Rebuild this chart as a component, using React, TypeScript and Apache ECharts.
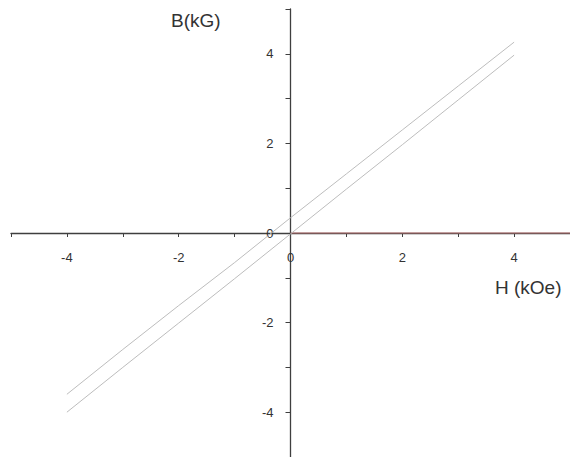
import React, { useEffect, useRef } from "react";
import * as echarts from "echarts";

const H = [-4, -3, -2, -1, 0, 1, 2, 3, 4];
const upperB = [-3.6, -2.6, -1.62, -0.66, 0.34, 1.32, 2.3, 3.28, 4.26];
const lowerB = [-4.0, -3.0, -2.01, -1.02, -0.02, 0.98, 1.97, 2.97, 3.97];
const baseH = [0, 5];
const baseB = [0, 0];
const axisTicks = { min: -5, max: 5, interval: 1 };

const W = 570;
const HT = 457;
const GRID = { left: 11, right: 0, top: 9, bottom: 0 };

export default function App() {
  const ref = useRef<HTMLDivElement>(null);
  useEffect(() => {
    if (!ref.current) return;
    const chart = echarts.init(ref.current, null, { renderer: "svg" });
    const fmt = (v: number) => (Math.round(v) % 2 === 0 ? String(Math.round(v)) : "");
    const labelStyle = {
      color: "#333333",
      fontSize: 13,
      fontFamily: "Liberation Sans, Arial, sans-serif",
    };
    const gw = W - GRID.left - GRID.right;
    const gh = HT - GRID.top - GRID.bottom;
    chart.setOption({
      animation: false,
      backgroundColor: "#ffffff",
      grid: { ...GRID, containLabel: false, outerBoundsMode: "none" },
      xAxis: {
        type: "value",
        ...axisTicks,
        position: "bottom",
        offset: -gh / 2,
        axisLine: { onZero: false, lineStyle: { color: "#3f3f3f", width: 1.3 } },
        axisTick: { show: true, inside: false, length: 4, lineStyle: { color: "#3f3f3f" } },
        axisLabel: { ...labelStyle, margin: 18, formatter: fmt, showMinLabel: true, showMaxLabel: true },
        splitLine: { show: false },
      },
      yAxis: {
        type: "value",
        ...axisTicks,
        position: "left",
        offset: -gw / 2,
        axisLine: { onZero: false, lineStyle: { color: "#3f3f3f", width: 1.3 } },
        axisTick: { show: true, inside: false, length: 5, lineStyle: { color: "#3f3f3f" } },
        axisLabel: { ...labelStyle, margin: 17, formatter: fmt },
        splitLine: { show: false },
      },
      series: [
        {
          type: "line",
          data: baseH.map((h, i) => [h, baseB[i]]),
          showSymbol: false,
          lineStyle: { color: "#b87070", width: 1 },
          z: 1,
        },
        {
          type: "line",
          data: H.map((h, i) => [h, upperB[i]]),
          showSymbol: false,
          lineStyle: { color: "#bdbdbd", width: 1 },
        },
        {
          type: "line",
          data: H.map((h, i) => [h, lowerB[i]]),
          showSymbol: false,
          lineStyle: { color: "#bdbdbd", width: 1 },
        },
      ],
      graphic: [
        {
          type: "text",
          left: 171,
          top: 11,
          style: {
            text: "B(kG)",
            fill: "#333333",
            fontSize: 19,
            fontFamily: "Liberation Sans, Arial, sans-serif",
          },
        },
        {
          type: "text",
          left: 495,
          top: 278,
          style: {
            text: "H (kOe)",
            fill: "#333333",
            fontSize: 19,
            fontFamily: "Liberation Sans, Arial, sans-serif",
          },
        },
      ],
    });
    return () => chart.dispose();
  }, []);
  return (
    <div
      ref={ref}
      style={{ position: "absolute", left: 0, top: 0, width: W, height: HT }}
    />
  );
}
